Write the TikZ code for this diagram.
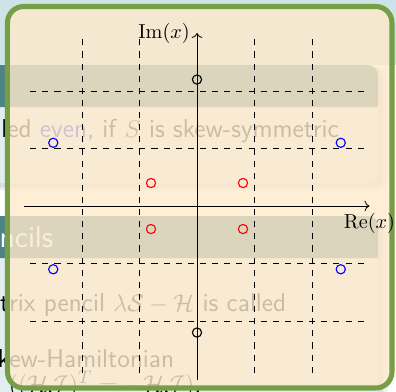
\documentclass[tikz,border=0pt]{standalone}
\usetikzlibrary{arrows.meta}
\definecolor{frameGreen}{HTML}{769E46}
\definecolor{peach}{HTML}{FEEACC}
\definecolor{slideBlue}{HTML}{CDE4E6}
\definecolor{blockTeal}{HTML}{4F8487}
\definecolor{blockBody}{HTML}{E2EDF0}
\definecolor{alertBlue}{HTML}{2020E0}

\begin{document}
\begin{tikzpicture}[
  slidetext/.style={anchor=base west,inner sep=0pt,font=\fontsize{12.8}{15}\selectfont\sffamily},
  gridline/.style={dashed,black},
  eig/.style={line width=0.55pt}]
  \useasboundingbox (-3.426,-3.217) rectangle (3.461,3.583);
  \begin{scope}
    \clip (-3.426,-3.217) rectangle (3.461,3.583);
    \fill[white] (-3.426,-3.217) rectangle (3.461,3.583);
    \fill[slideBlue] (-3.426,2.45) rectangle (3.461,3.583);
    \foreach \t/\b in {2.452/0.4,-0.174/-3.6}{
      \fill[black,opacity=0.06,rounded corners=6pt] (-3.6,\b-0.13) rectangle (3.148+0.17,\t-0.05);
      \fill[black,opacity=0.08,rounded corners=5pt] (-3.6,\b-0.08) rectangle (3.148+0.09,\t-0.03);
      \fill[blockBody,rounded corners=5pt] (-3.6,\b) rectangle (3.148,\t);
      \fill[blockTeal] (-3.6,\t-0.73) -- (-3.6,\t) [rounded corners=5pt] -- (3.148,\t) [sharp corners] -- (3.148,\t-0.73) -- cycle;}
    \node[slidetext] (l1) at (-3.41,1.2) {led \textcolor{alertBlue}{even}, if $S$ is skew-symmetric};
    \node[slidetext,font=\fontsize{15}{18}\selectfont\sffamily,text=white] (h2) at (-3.44,-0.713) {ncils};
    \node[slidetext] (l2) at (-3.43,-1.826) {trix pencil $\lambda\mathcal{S}-\mathcal{H}$ is called};
    \node[slidetext] (l3) at (-3.47,-2.8) {kew-Hamiltonian};
    \node[slidetext] (l4) at (-3.28,-3.24) {$((\mathcal{H}\mathcal{J})^T=-\mathcal{H}\mathcal{J})$.};
  \end{scope}
  \draw[frameGreen,line width=2.5pt,rounded corners=8pt,fill=peach,fill opacity=0.8] (-3.296,-3.165) rectangle (3.391,3.470);
  \foreach \k in {-2,-1,1,2}{
    \draw[gridline] (\k,-2.9) -- (\k,2.9);
    \draw[gridline] (-2.9,\k) -- (2.9,\k);}
  \coordinate (xl) at (-3,0);
  \coordinate (xr) at (3,0);
  \coordinate (yb) at (0,-3.03);
  \coordinate (yt) at (0,3.01);
  \draw[->] (xl) -- (xr);
  \draw[->] (yb) -- (yt);
  \node[below] (re) at (xr) {$\mathrm{Re}(x)$};
  \node[left] (im) at (yt) {$\mathrm{Im}(x)$};
  \foreach \x/\y/\c in {0/2.2/black,0/-2.2/black,-0.8/0.4/red,0.8/0.4/red,-0.8/-0.4/red,0.8/-0.4/red,-2.5/1.1/blue,2.5/1.1/blue,-2.5/-1.1/blue,2.5/-1.1/blue}{
    \draw[\c,eig] (\x,\y) circle (0.08);}
\end{tikzpicture}
\end{document}
